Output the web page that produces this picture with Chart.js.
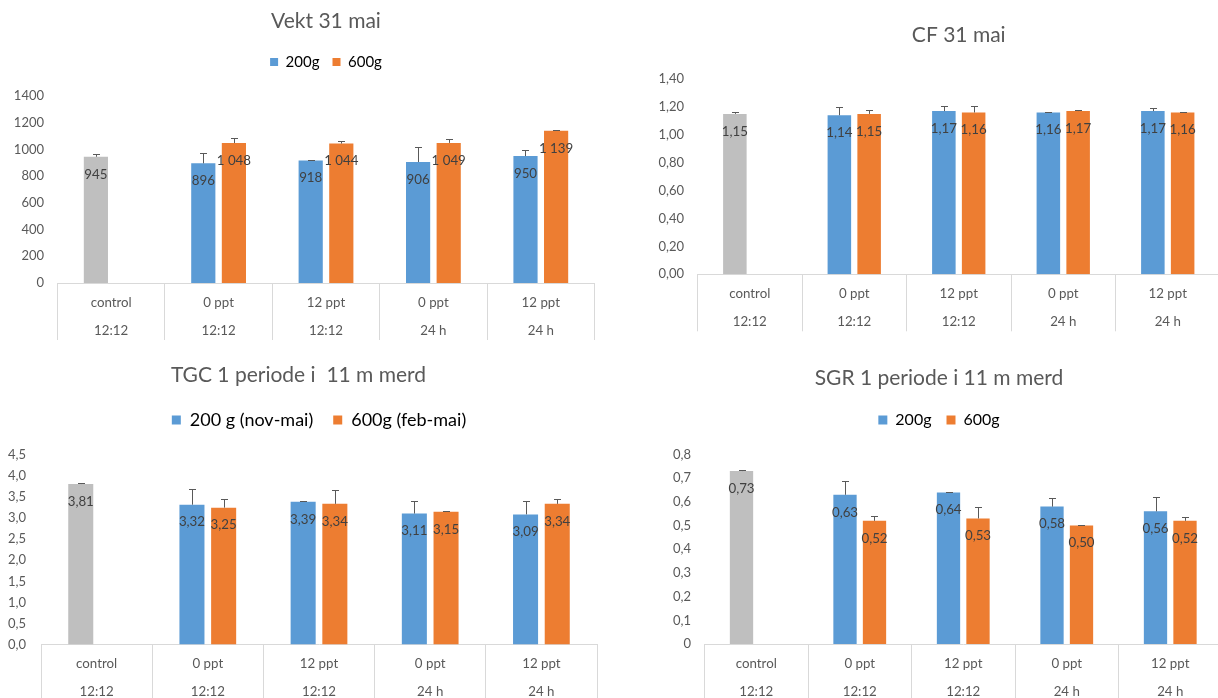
<!DOCTYPE html>
<html lang="no">
<head>
<meta charset="utf-8">
<title>Vekst – 200g og 600g</title>
<script src="https://cdn.jsdelivr.net/npm/chart.js@4.4.1/dist/chart.umd.min.js"></script>
<style>
    html, body { margin: 0; padding: 0; background: #fff; overflow: hidden; }
    body { position: relative; width: 1218px; height: 698px; }
    canvas { position: absolute; }
</style>
</head>
<body>
<canvas id="vekt-chart" width="610" height="345" style="left:0;top:0"></canvas>
<canvas id="cf-chart" width="582" height="345" style="left:640px;top:0"></canvas>
<canvas id="tgc-chart" width="600" height="353" style="left:0;top:345px"></canvas>
<canvas id="sgr-chart" width="566" height="353" style="left:656px;top:345px"></canvas>
<script>
// ========== data ==========

const groups = ['control', '0 ppt', '12 ppt', '0 ppt', '12 ppt'];
const regimes = ['12:12', '12:12', '12:12', '24 h', '24 h'];

// Vekt 31 mai
const vekt200 = [945, 896, 918, 906, 950];
const vekt600 = [null, 1048, 1044, 1049, 1139];
const vekt200Err = [18, 75, 5, 115, 48];
const vekt600Err = [null, 40, 19, 27, 4];
const vektTicks = ['0', '200', '400', '600', '800', '1000', '1200', '1400'];

// CF 31 mai
const cf200 = [1.15, 1.14, 1.17, 1.16, 1.17];
const cf600 = [null, 1.15, 1.16, 1.17, 1.16];
const cf200Err = [0.01, 0.06, 0.035, 0.003, 0.02];
const cf600Err = [null, 0.03, 0.05, 0.01, 0.005];
const cfTicks = ['0,00', '0,20', '0,40', '0,60', '0,80', '1,00', '1,20', '1,40'];

// TGC 1 periode
const tgc200 = [3.81, 3.32, 3.39, 3.11, 3.09];
const tgc600 = [null, 3.25, 3.34, 3.15, 3.34];
const tgc200Err = [0.02, 0.38, 0.01, 0.29, 0.32];
const tgc600Err = [null, 0.21, 0.32, 0.03, 0.12];
const tgcTicks = ['0,0', '0,5', '1,0', '1,5', '2,0', '2,5', '3,0', '3,5', '4,0', '4,5'];

// SGR 1 periode
const sgr200 = [0.73, 0.63, 0.64, 0.58, 0.56];
const sgr600 = [null, 0.52, 0.53, 0.50, 0.52];
const sgr200Err = [0.003, 0.06, 0.002, 0.035, 0.06];
const sgr600Err = [null, 0.02, 0.05, 0.002, 0.015];
const sgrTicks = ['0', '0,1', '0,2', '0,3', '0,4', '0,5', '0,6', '0,7', '0,8'];

const BLUE = '#5B9BD5';
const ORANGE = '#ED7D31';
const GRAY = '#BFBFBF';
const TEXT = '#595959';
const LINE = '#D9D9D9';

Chart.defaults.font.family = "Lato, 'Open Sans', sans-serif";
Chart.defaults.color = TEXT;

// ---- formatering ----

const withSpace = v => String(v).replace(/\B(?=(\d{3})+(?!\d))/g, ' ');
const twoDec = v => v.toFixed(2).replace('.', ',');

// feilstolper (kun pluss) og verdietiketter inne i toppen av stolpen
function barNotes(format) {
    return {
        id: 'barNotes',
        afterDatasetsDraw(chart) {
            const { ctx } = chart;
            const y = chart.scales.y;
            ctx.save();
            chart.data.datasets.forEach((ds, i) => {
                chart.getDatasetMeta(i).data.forEach((bar, j) => {
                    const v = ds.data[j];
                    if (v == null) return;
                    const x = Math.round(bar.x) + 0.5;
                    const top = Math.round(y.getPixelForValue(v + (ds.errors[j] || 0))) + 0.5;
                    ctx.strokeStyle = '#595959';
                    ctx.lineWidth = 1;
                    ctx.beginPath();
                    ctx.moveTo(x, bar.y);
                    ctx.lineTo(x, top);
                    ctx.moveTo(x - 3.5, top);
                    ctx.lineTo(x + 3.5, top);
                    ctx.stroke();

                    ctx.fillStyle = '#404040';
                    ctx.font = "13.3px Lato, 'Open Sans', sans-serif";
                    ctx.textAlign = 'center';
                    ctx.textBaseline = 'middle';
                    ctx.fillText(format(v), bar.x, bar.y + 17.5);
                });
            });
            ctx.restore();
        },
    };
}

function drawGrowthChart(id, s) {
    const canvas = document.getElementById(id);
    if (!canvas) return null;

    return new Chart(canvas, {
        type: 'bar',
        data: {
            labels: groups.map((g, i) => [g, regimes[i]]),
            datasets: [
                {
                    label: s.names[0],
                    data: s.small,
                    errors: s.smallErr,
                    backgroundColor: s.small.map((_, i) => (i === 0 ? GRAY : BLUE)),
                },
                {
                    label: s.names[1],
                    data: s.large,
                    errors: s.largeErr,
                    backgroundColor: ORANGE,
                },
            ],
        },
        options: {
            responsive: false,
            animation: false,
            events: [],
            layout: { padding: { left: 0, right: s.padRight, top: 0, bottom: 0 } },
            datasets: { bar: { categoryPercentage: 0.57, barPercentage: 0.79 } },
            plugins: {
                title: {
                    display: true,
                    text: s.title,
                    fullSize: s.titleFull,
                    color: TEXT,
                    font: { size: 21, weight: 'normal' },
                    padding: { top: s.titlePad[0], bottom: s.titlePad[1] },
                },
                // tom linje som luft mellom legend og plott
                subtitle: {
                    display: s.gap > 0,
                    text: '',
                    weight: 500,
                    font: { size: 1, lineHeight: 1 },
                    padding: { top: Math.max(s.gap - 1, 0), bottom: 0 },
                },
                legend: {
                    display: s.legendPad > 0,
                    fullSize: s.legendFull,
                    labels: {
                        boxWidth: s.legendBox,
                        boxHeight: s.legendBox,
                        padding: s.legendPad,
                        color: TEXT,
                        font: { size: s.legendFont },
                        generateLabels: chart => chart.data.datasets.map((ds, i) => ({
                            text: ds.label,
                            fillStyle: i === 0 ? BLUE : ORANGE,
                            strokeStyle: i === 0 ? BLUE : ORANGE,
                            lineWidth: 0,
                            datasetIndex: i,
                        })),
                    },
                },
                tooltip: { enabled: false },
            },
            scales: {
                x: {
                    offset: true,
                    grid: { offset: true, drawOnChartArea: false, drawTicks: true, tickLength: 57, color: LINE },
                    border: { display: true, color: LINE },
                    ticks: {
                        autoSkip: false,
                        maxRotation: 0,
                        padding: -51.5,
                        color: TEXT,
                        font: { size: 13.3, lineHeight: 2.1 },
                    },
                    afterFit: axis => { axis.height = s.axisHeight; },
                },
                y: {
                    min: 0,
                    max: s.max,
                    grid: { display: false, drawTicks: false },
                    border: { display: false },
                    ticks: {
                        stepSize: s.step,
                        padding: s.tickPad,
                        color: TEXT,
                        font: { size: 13 },
                        callback: (v, i) => s.ticks[i],
                    },
                    afterFit: axis => { axis.width = s.axisWidth; },
                },
            },
        },
        plugins: [barNotes(s.format)],
    });
}

// ---- tegning ----

drawGrowthChart('vekt-chart', {
    title: 'Vekt 31 mai', names: ['200g', '600g'],
    small: vekt200, large: vekt600, smallErr: vekt200Err, largeErr: vekt600Err,
    max: 1400, step: 200, ticks: vektTicks, format: withSpace,
    titleFull: false, titlePad: [8.4, 7.9],
    legendFull: false, legendPad: 13, legendFont: 15, legendBox: 8, gap: 16.5,
    padRight: 15.5, axisWidth: 57.5, axisHeight: 62, tickPad: 13.5,
});

drawGrowthChart('cf-chart', {
    title: 'CF 31 mai', names: ['200g', '600g'],
    small: cf200, large: cf600, smallErr: cf200Err, largeErr: cf600Err,
    max: 1.4, step: 0.2, ticks: cfTicks, format: twoDec,
    titleFull: false, titlePad: [22.4, 31.4],
    legendFull: false, legendPad: 0, legendFont: 15, legendBox: 8, gap: 0,
    padRight: 2, axisWidth: 57.5, axisHeight: 70.7, tickPad: 13.5,
});

drawGrowthChart('tgc-chart', {
    title: 'TGC 1 periode i  11 m merd', names: ['200 g (nov-mai)', '600g (feb-mai)'],
    small: tgc200, large: tgc600, smallErr: tgc200Err, largeErr: tgc600Err,
    max: 4.5, step: 0.5, ticks: tgcTicks, format: twoDec,
    titleFull: true, titlePad: [18.1, 2.7],
    legendFull: false, legendPad: 20, legendFont: 18, legendBox: 9, gap: 16,
    padRight: 3, axisWidth: 41, axisHeight: 53.5, tickPad: 15,
});

drawGrowthChart('sgr-chart', {
    title: 'SGR 1 periode i 11 m merd', names: ['200g', '600g'],
    small: sgr200, large: sgr600, smallErr: sgr200Err, largeErr: sgr600Err,
    max: 0.8, step: 0.1, ticks: sgrTicks, format: twoDec,
    titleFull: true, titlePad: [20.4, 6.4],
    legendFull: true, legendPad: 15, legendFont: 16, legendBox: 9, gap: 16.5,
    padRight: 0, axisWidth: 48.5, axisHeight: 54, tickPad: 13.5,
});
</script>
</body>
</html>
